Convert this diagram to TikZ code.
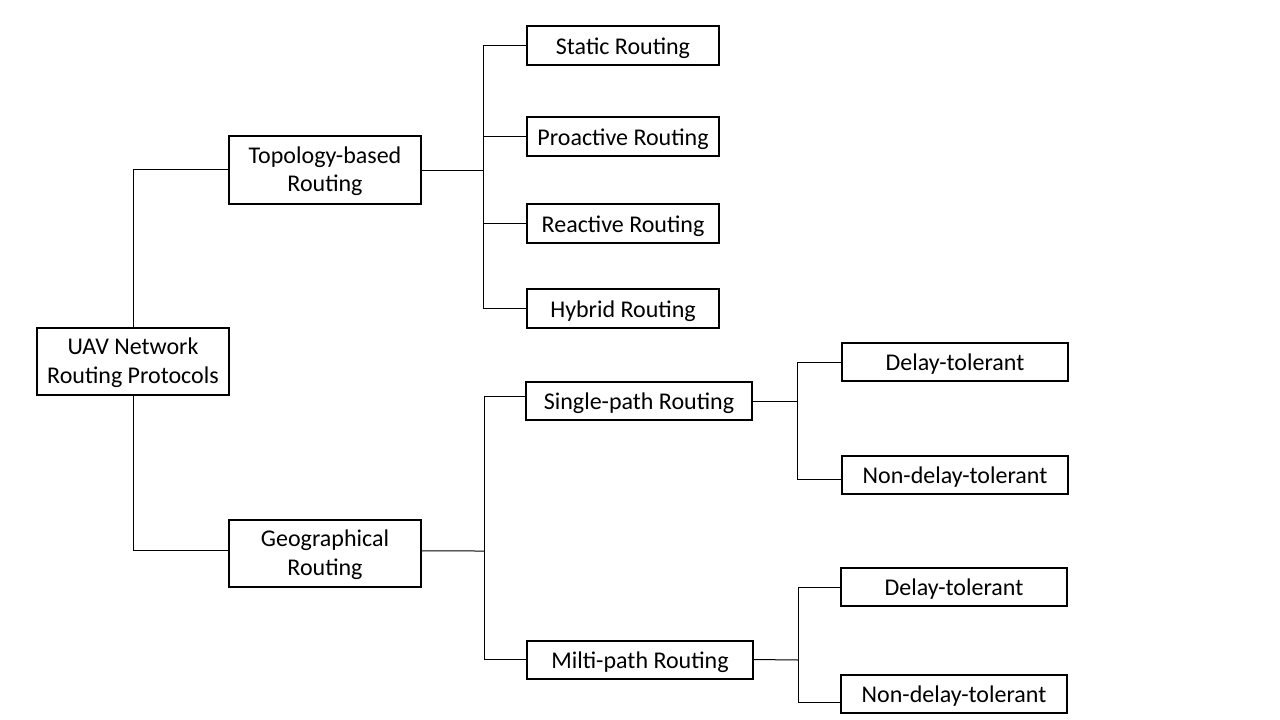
\documentclass[tikz,border=0pt]{standalone}
\usepackage{fontspec}
\setmainfont{Carlito}
\begin{document}
\begin{tikzpicture}[x=0.75pt,y=-0.75pt,
  box/.style={draw=black,line width=1.5pt,fill=white,align=center,inner sep=0pt,
    font=\fontsize{18pt}{21.3pt}\selectfont},
  wbox/.style={box,minimum width=144pt,minimum height=50.5pt,text height=34.6pt,text depth=2pt},
  sbox/.style={box,minimum width=144pt,minimum height=29pt,text height=15.2pt,text depth=2pt},
  nbox/.style={box,minimum width=169.5pt,minimum height=28.5pt,text height=15.2pt,text depth=2pt},
  conn/.style={draw=black,line width=0.75pt}]
\useasboundingbox[fill=white] (0,0) rectangle (1280,720);
% nodes
\node[wbox] (uav) at (133,361.5) {UAV Network\\Routing Protocols};
\node[wbox] (topo) at (325,170) {Topology-based\\Routing};
\node[wbox] (geo) at (325,553.5) {Geographical\\Routing};
\node[sbox] (static) at (623,45.5) {Static Routing};
\node[sbox] (proactive) at (623,136.5) {Proactive Routing};
\node[sbox] (reactive) at (623,223.5) {Reactive Routing};
\node[sbox] (hybrid) at (623,308.5) {Hybrid Routing};
\node[nbox] (single) at (639,401) {Single-path Routing};
\node[nbox] (milti) at (640,659.5) {Milti-path Routing};
\node[nbox] (d1) at (955,362) {Delay-tolerant};
\node[nbox] (n1) at (955,475) {Non-delay-tolerant};
\node[nbox] (d2) at (954,587) {Delay-tolerant};
\node[nbox] (n2) at (954,694) {Non-delay-tolerant};
% junctions
\coordinate (tj) at (483,171);
\coordinate (gj) at (484,551);
\coordinate (sj) at (797,401);
\coordinate (mj) at (798,660);
% connectors
\draw[conn] (uav.north) |- (topo.west);
\draw[conn] (uav.south) |- ([yshift=1.9pt]geo.west);
\draw[conn] ([yshift=-0.75pt]topo.east) -- (tj);
\draw[conn] (tj) |- (static.west);
\draw[conn] (tj) |- (proactive.west);
\draw[conn] (tj) |- (reactive.west);
\draw[conn] (tj) |- (hybrid.west);
\draw[conn] ([yshift=1.9pt]geo.east) -- (gj);
\draw[conn] (gj) |- ([yshift=3.75pt]single.west);
\draw[conn] (gj) |- (milti.west);
\draw[conn] (single.east) -- (sj);
\draw[conn] (sj) |- (d1.west);
\draw[conn] (sj) |- ([yshift=-3pt]n1.west);
\draw[conn] (milti.east) -- (mj);
\draw[conn] (mj) |- (d2.west);
\draw[conn] (mj) |- ([yshift=-6pt]n2.west);
\end{tikzpicture}
\end{document}
